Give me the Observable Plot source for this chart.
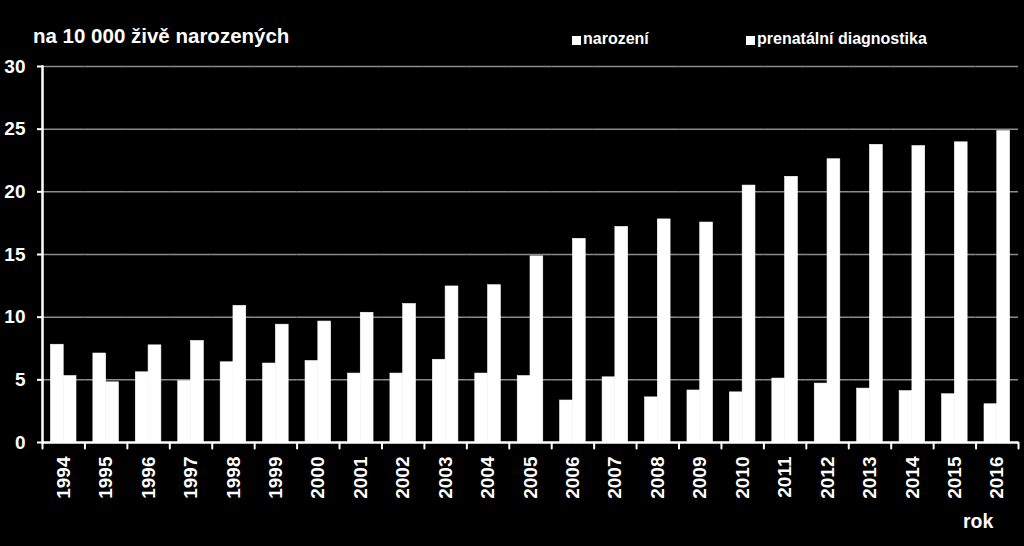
<!DOCTYPE html>
<html>
<head>
<meta charset="utf-8">
<script src="https://cdn.jsdelivr.net/npm/d3@7"></script>
<script src="https://cdn.jsdelivr.net/npm/@observablehq/plot@0.6"></script>
<style>
  html, body { margin: 0; padding: 0; background: #000; }
  #wrap { position: relative; width: 1024px; height: 546px; background: #000; overflow: hidden;
          font-family: "Liberation Sans", Arial, sans-serif; font-weight: bold; color: #fff; }
  #chart { position: absolute; left: 0; top: 0; }
  .abs { position: absolute; white-space: nowrap; }
  #title { left: 33px; top: 26px; font-size: 20.5px; line-height: 20.5px; }
  .leg { top: 31px; font-size: 16px; line-height: 16px; }
  .sw { position: absolute; width: 9px; height: 9px; background: #fff; }
  #rok { left: 963px; top: 512px; font-size: 19.5px; line-height: 19.5px; }
</style>
</head>
<body>
<div id="wrap">
  <div id="chart"></div>
  <div id="title" class="abs">na 10 000 živě narozených</div>
  <div class="sw" style="left:572px; top:36px;"></div>
  <div class="abs leg" style="left:583px;">narození</div>
  <div class="sw" style="left:746px; top:36px;"></div>
  <div class="abs leg" style="left:757px;">prenatální diagnostika</div>
  <div id="rok" class="abs">rok</div>
</div>
<script>
const years = [1994, 1995, 1996, 1997, 1998, 1999, 2000, 2001, 2002, 2003, 2004, 2005,
               2006, 2007, 2008, 2009, 2010, 2011, 2012, 2013, 2014, 2015, 2016];
const series = ["narození", "prenatální diagnostika"];
const narozeni = [7.8, 7.1, 5.6, 4.9, 6.4, 6.3, 6.5, 5.5, 5.5, 6.6, 5.5, 5.3,
                  3.35, 5.2, 3.6, 4.15, 4.0, 5.1, 4.7, 4.3, 4.1, 3.85, 3.05];
const prenatalni = [5.3, 4.8, 7.75, 8.1, 10.9, 9.4, 9.65, 10.35, 11.05, 12.45, 12.55, 14.85,
                    16.25, 17.2, 17.8, 17.55, 20.5, 21.2, 22.6, 23.75, 23.65, 23.95, 24.85];
const yTicks = [0, 5, 10, 15, 20, 25, 30];

const data = years.flatMap((year, i) => [
  {year, series: series[0], value: narozeni[i]},
  {year, series: series[1], value: prenatalni[i]}
]);
const lastYear = [years[years.length - 1]];

const chart = Plot.plot({
  width: 1024,
  height: 546,
  marginLeft: 42,
  marginRight: 6,
  marginTop: 66,
  marginBottom: 104,
  style: {background: "#000", color: "#fff", fontFamily: "Liberation Sans, Arial, sans-serif", overflow: "visible"},
  fx: {domain: years, padding: 0, round: false, label: null},
  x: {domain: series, paddingInner: 0, paddingOuter: 0.66, round: false, axis: null},
  y: {domain: [0, 30], axis: null},
  marks: [
    Plot.gridY(yTicks.slice(1), {stroke: "#8c8c8c", strokeOpacity: 1, strokeWidth: 1.5}),
    Plot.barY(data, {fx: "year", x: "series", y: "value", fill: "#fff", stroke: "#fff", strokeWidth: 0.6}),
    Plot.ruleY([0], {stroke: "#fff", strokeWidth: 2.5}),
    Plot.frame({anchor: "left", facet: "super", stroke: "#fff", strokeWidth: 2.5}),
    Plot.vector(years, {fx: d => d, frameAnchor: "bottom-left", length: 6, rotate: 180, anchor: "start", r: 0, stroke: "#fff", strokeWidth: 2}),
    Plot.vector(lastYear, {fx: d => d, frameAnchor: "bottom-right", length: 6, rotate: 180, anchor: "start", r: 0, stroke: "#fff", strokeWidth: 2}),
    Plot.axisY(yTicks, {tickSize: 5, tickPadding: 12, fontSize: 19, fontWeight: "bold", fill: "#fff", stroke: "#fff", strokeWidth: 2, label: null}),
    Plot.axisFx({anchor: "bottom", tickFormat: d => String(d), tickSize: 0, tickRotate: -90, tickPadding: 14, fontSize: 19, fontWeight: "bold", fill: "#fff", label: null})
  ]
});
document.getElementById("chart").appendChild(chart);
</script>
</body>
</html>
